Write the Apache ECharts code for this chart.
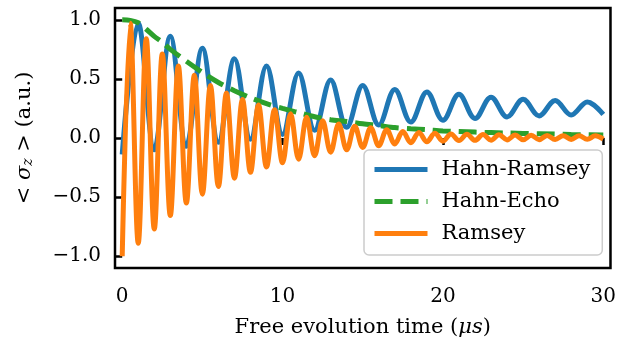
<!DOCTYPE html>
<html><head><meta charset="utf-8">
<script src="https://cdn.jsdelivr.net/npm/echarts@6/dist/echarts.min.js"></script>
<style>html,body{margin:0;padding:0;background:#fff}#c{width:619px;height:343px}</style>
</head><body><div id="c"></div>
<script>
const seriesNames = ['Hahn-Ramsey', 'Hahn-Echo', 'Ramsey'];
const xTicks = [0, 10, 20, 30];
const yTicks = [-1, -0.5, 0, 0.5, 1];

// Hahn-Ramsey: peaks (odd t) and troughs (even t)
const hahnRamseyT = [0,1,2,3,4,5,6,7,8,9,10,11,12,13,14,15,16,17,18,19,20,21,22,23,24,25,26,27,28,29,30];
const hahnRamseyV = [-0.14,0.97,-0.10,0.86,-0.07,0.76,-0.035,0.67,-0.01,0.61,0.03,0.55,0.065,0.49,0.09,0.445,0.11,0.41,0.135,0.39,0.15,0.37,0.165,0.345,0.178,0.328,0.187,0.318,0.195,0.305,0.2];

// Hahn-Echo decay
const hahnEchoT = [0,0.5,1,1.5,2,2.5,3,4,5,6,7,8,9,10,11,12,13,14,15,16,17,18,19,20,22,24,26,28,30];
const hahnEchoV = [1.0,0.995,0.975,0.92,0.86,0.81,0.75,0.65,0.555,0.47,0.40,0.34,0.29,0.25,0.215,0.18,0.155,0.14,0.12,0.105,0.088,0.078,0.07,0.06,0.05,0.042,0.036,0.03,0.025];

// Ramsey: troughs (integer t) and peaks (half-integer t)
const ramseyT = [0,0.5,1,1.5,2,2.5,3,3.5,4,4.5,5,5.5,6,6.5,7,7.5,8,8.5,9,9.5,10,10.5,11,11.5,12,12.5,13,13.5,14,14.5,15,15.5,16,16.5,17,17.5,18,18.5,19,19.5,20,20.5,21,21.5,22,22.5,23,23.5,24,24.5,25,25.5,26,26.5,27,27.5,28,28.5,29,29.5,30];
const ramseyV = [-1.0,0.97,-0.89,0.84,-0.77,0.71,-0.655,0.61,-0.55,0.53,-0.475,0.445,-0.41,0.38,-0.34,0.325,-0.29,0.28,-0.245,0.24,-0.21,0.205,-0.18,0.175,-0.15,0.145,-0.12,0.118,-0.10,0.10,-0.08,0.087,-0.065,0.07,-0.05,0.056,-0.04,0.047,-0.032,0.04,-0.027,0.034,-0.022,0.031,-0.02,0.029,-0.018,0.027,-0.016,0.025,-0.015,0.023,-0.014,0.022,-0.013,0.02,-0.012,0.019,-0.011,0.018,-0.01];

const zip = (a, b) => a.map((v, i) => [v, b[i]]);
const FONT = 'DejaVu Serif';
const fmtY = v => (v < 0 ? '\u2212' : '') + Math.abs(v).toFixed(1);

const chart = echarts.init(document.getElementById('c'), null, {renderer: 'canvas'});
chart.setOption({
  animation: false,
  backgroundColor: '#fff',
  grid: {left: 115, right: 5, top: 8, bottom: 75, show: true, borderColor: '#000', borderWidth: 2.5, backgroundColor: 'transparent'},
  xAxis: {
    type: 'value', min: -0.45, max: 30.45,
    axisLine: {show: false},
    splitLine: {show: false},
    axisTick: {show: true, customValues: xTicks, length: 7, lineStyle: {color: '#000', width: 2.5}},
    axisLabel: {customValues: xTicks, margin: 19, color: '#000', fontFamily: FONT, fontSize: 20},
    name: 'Free evolution time ({i|\u03bcs})',
    nameLocation: 'middle', nameGap: 49,
    nameTextStyle: {color: '#000', fontFamily: FONT, fontSize: 21, rich: {i: {fontFamily: FONT, fontStyle: 'italic', fontSize: 21, color: '#000'}}}
  },
  yAxis: {
    type: 'value', min: -1.1, max: 1.1,
    axisLine: {show: false},
    splitLine: {show: false},
    axisTick: {show: true, customValues: yTicks, length: 7, lineStyle: {color: '#000', width: 2.5}},
    axisLabel: {customValues: yTicks, margin: 14, color: '#000', fontFamily: FONT, fontSize: 20, formatter: fmtY},
    name: '< {i|\u03c3}{s|z} > (a.u.)',
    nameLocation: 'middle', nameRotate: 90, nameGap: 80,
    nameTextStyle: {color: '#000', fontFamily: FONT, fontSize: 21, rich: {
      i: {fontFamily: FONT, fontStyle: 'italic', fontSize: 21, color: '#000'},
      s: {fontFamily: FONT, fontStyle: 'italic', fontSize: 14, color: '#000', verticalAlign: 'bottom'}
    }}
  },
  legend: {
    orient: 'vertical', left: 364, top: 150,
    data: seriesNames,
    itemWidth: 53, itemHeight: 14, itemGap: 11,
    padding: [9, 12, 11, 8],
    backgroundColor: 'rgba(255,255,255,0.8)', borderColor: '#cccccc', borderWidth: 1.5, borderRadius: 5,
    lineStyle: {width: 5},
    itemStyle: {opacity: 0},
    textStyle: {color: '#000', fontFamily: FONT, fontSize: 21, padding: [0, 0, 0, 9]}
  },
  series: [
    {name: seriesNames[0], type: 'line', data: zip(hahnRamseyT, hahnRamseyV), smooth: 0.36, symbol: 'none',
     lineStyle: {color: '#1f77b4', width: 5}, itemStyle: {color: '#1f77b4'}, z: 2},
    {name: seriesNames[1], type: 'line', data: zip(hahnEchoT, hahnEchoV), smooth: 0.3, symbol: 'none',
     lineStyle: {color: '#2ca02c', width: 5, type: [18, 8]}, itemStyle: {color: '#2ca02c'}, z: 3},
    {name: seriesNames[2], type: 'line', data: zip(ramseyT, ramseyV), smooth: 0.36, symbol: 'none',
     lineStyle: {color: '#ff7f0e', width: 5}, itemStyle: {color: '#ff7f0e'}, z: 4}
  ]
});
</script></body></html>
